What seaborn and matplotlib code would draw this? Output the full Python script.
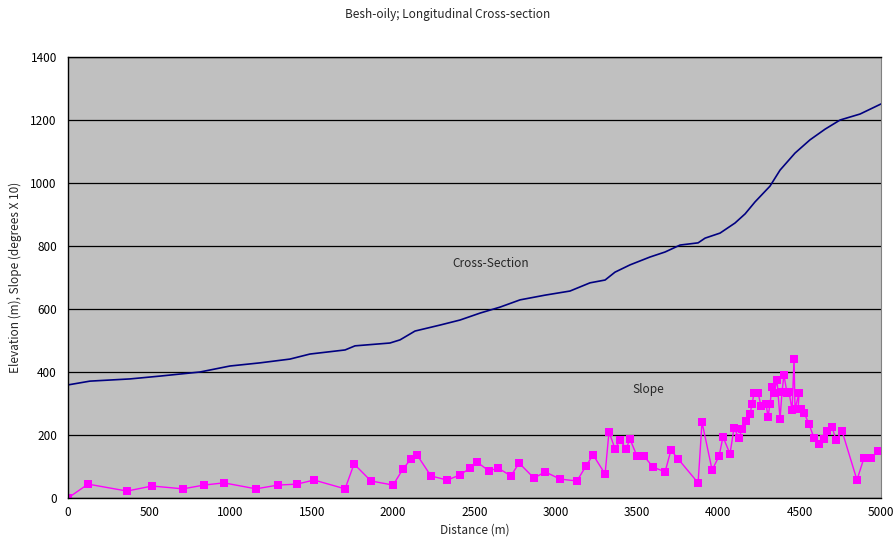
import matplotlib
matplotlib.use("Agg")
import matplotlib.pyplot as plt
import pandas as pd
import seaborn as sns
from matplotlib.ticker import MultipleLocator

# cross-section profile (distance m, elevation m)
cs_dist = [0, 135, 381, 566, 812, 996, 1181, 1365, 1488, 1704, 1765, 1980, 2042, 2134,
           2288, 2411, 2534, 2657, 2780, 2934, 3087, 3210, 3303, 3364, 3456, 3579, 3672,
           3764, 3875, 3918, 4010, 4102, 4164, 4225, 4317, 4379, 4471, 4563, 4656, 4748,
           4871, 5000]
cs_elev = [359, 371, 378, 387, 400, 419, 429, 441, 457, 470, 483, 492, 502, 530,
           549, 565, 587, 606, 629, 644, 657, 683, 692, 717, 740, 765, 781,
           803, 810, 825, 841, 873, 902, 940, 990, 1041, 1095, 1137, 1171, 1200,
           1219, 1251]

# slope (degrees x 10)
sl_dist = [0, 123, 363, 517, 707, 836, 959, 1156, 1292, 1408, 1513, 1704, 1759, 1863,
           1999, 2060, 2109, 2146, 2232, 2331, 2411, 2472, 2515, 2589, 2645, 2724, 2774,
           2866, 2934, 3026, 3130, 3186, 3229, 3303, 3327, 3364, 3395, 3432, 3456, 3499,
           3542, 3598, 3672, 3708, 3752, 3875, 3899, 3961, 4004, 4028, 4071, 4096, 4127,
           4145, 4170, 4194, 4207, 4219, 4244, 4262, 4293, 4305, 4317, 4330, 4342, 4360,
           4379, 4391, 4403, 4422, 4434, 4453, 4465, 4471, 4496, 4490, 4508, 4527, 4557,
           4588, 4619, 4649, 4668, 4699, 4723, 4760, 4852, 4895, 4938, 4982]
sl_val = [0, 44, 22, 38, 29, 41, 48, 29, 41, 44, 57, 29, 108, 54,
          41, 92, 124, 137, 70, 57, 73, 95, 114, 86, 95, 70, 111,
          63, 83, 60, 54, 102, 137, 76, 210, 156, 184, 156, 187, 133,
          133, 98, 83, 152, 124, 48, 241, 89, 133, 194, 140, 222, 190,
          219, 244, 267, 298, 333, 333, 292, 298, 257, 298, 352, 333, 375,
          251, 337, 390, 333, 337, 279, 441, 283, 333, 283, 283, 270, 235,
          190, 171, 187, 213, 225, 184, 213, 57, 127, 127, 149]

cs = pd.DataFrame({"dist": cs_dist, "elev": cs_elev})
sl = pd.DataFrame({"dist": sl_dist, "val": sl_val})

sns.set_style("white")
plt.rcParams["font.family"] = ["Noto Sans CJK JP", "DejaVu Sans"]

fig = plt.figure(figsize=(8.96, 5.43), dpi=100)
ax = fig.add_axes([0.0759, 0.0829, 0.9074, 0.8121])
ax.set_facecolor("#C0C0C0")

sns.lineplot(data=cs, x="dist", y="elev", sort=False, color="#000080", lw=1.2, ax=ax)
sns.lineplot(data=sl, x="dist", y="val", sort=False, color="#FF00FF", lw=1.0,
             marker="s", markersize=5.5, markeredgewidth=0, ax=ax)

ax.set_xlim(0, 5000)
ax.set_ylim(0, 1400)
ax.xaxis.set_major_locator(MultipleLocator(500))
ax.yaxis.set_major_locator(MultipleLocator(200))
ax.yaxis.set_minor_locator(MultipleLocator(100))
ax.grid(axis="y", which="major", color="black", lw=0.9)
ax.set_axisbelow(True)
ax.tick_params(axis="both", which="both", direction="in", labelsize=8.5, colors="black")
ax.tick_params(axis="x", length=4, pad=6)
ax.tick_params(axis="y", which="major", length=4, pad=8)
ax.tick_params(axis="y", which="minor", length=3)
ax.tick_params(axis="x", which="minor", length=0)

for s in ["left", "bottom", "top"]:
    ax.spines[s].set_color("black")
    ax.spines[s].set_linewidth(1.0)
ax.spines["right"].set_color("#808080")

ax.set_xlabel("Distance (m)", fontsize=8.5, labelpad=3)
ax.set_ylabel("Elevation (m), Slope (degrees X 10)", fontsize=8.5, labelpad=6)
fig.suptitle("Besh-oily; Longitudinal Cross-section", fontsize=8.5, y=0.985)

ax.text(2362, 746, "Cross-Section", fontsize=8.5, va="center", ha="left")
ax.text(3469, 343, "Slope", fontsize=8.5, va="center", ha="left")

fig.savefig("out.png", dpi=100, facecolor="white")
